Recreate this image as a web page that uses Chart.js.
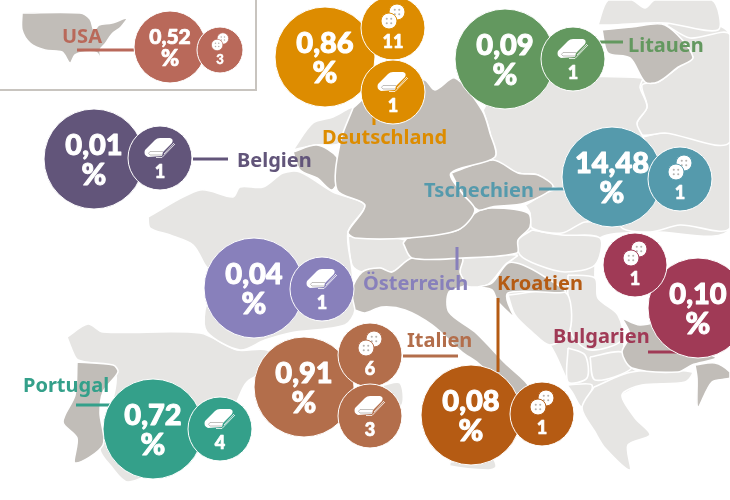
<!doctype html>
<html lang="de">
  <head>
    <meta charset="utf-8">
    <title>Europa</title>
    <script src="https://cdn.jsdelivr.net/npm/chart.js@4/dist/chart.umd.js"></script>
    <style>
      html, body { margin: 0; background: #fff; }
      canvas { display: block; }
    </style>
  </head>
  <body>
    <canvas id="karte" width="730" height="500"></canvas>
    <script>
    // Laender
    const laender = ['USA','Belgien','Deutschland','Litauen','Tschechien','Österreich','Italien','Kroatien','Bulgarien','Portugal'];
    const prozente = ['0,52','0,01','0,86','0,09','14,48','0,04','0,91','0,08','0,10','0,72'];
    const farben = ['#b9695a','#62557a','#dd8c00','#63985f','#559aac','#8880bb','#b36e4b','#b55b13','#a03a56','#34a08a'];

    // grosse Kreise
    const grossX = [170,94,325,505,612,254,304,471,698,153];
    const grossY = [47,159,57,59,177,288,387,415,308,429];
    const grossR = [36,50,50,50,50,50,50,50,50,50];

    // kleine Kreise: land = Index in laender, art = knopf / stoff
    const kleinLand = [0,1,2,2,3,4,5,6,6,7,8,9];
    const kleinArt = ['knopf','stoff','knopf','stoff','stoff','knopf','stoff','knopf','stoff','knopf','knopf','stoff'];
    const kleinZahl = ['3','1','11','1','1','1','1','6','3','1','1','4'];
    const kleinX = [220,160,393,393,573,680,322,370,370,542,635,220];
    const kleinY = [50,158,28,92,59,179,289,355,416,414,265,429];
    const kleinR = [23,32,32,32,32,32,32,32,32,32,32,32];

    // Beschriftung
    const labelX = [62,237,322,628,424,363,407,497,553,23];
    const labelY = [43,167,144,52,197,290,347,290,343,392];

    // Verbindungslinien, gleiche Reihenfolge wie laender
    const linieUSA = [[77,50],[135,50]];
    const linieBelgien = [[193,159],[228,159]];
    const linieDeutschland = [[374,112],[374,125]];
    const linieLitauen = [[600,42],[623,42]];
    const linieTschechien = [[539,189],[565,189]];
    const linieOesterreich = [[457,247],[457,270]];
    const linieItalien = [[403,356],[458,356]];
    const linieKroatien = [[498,298],[498,372]];
    const linieBulgarien = [[648,352],[680,352]];
    const liniePortugal = [[76,405],[110,405]];
    const rahmen = [[0,90],[256,90],[256,0]];

    // Karte, dunkel
    const usa = [[22,13],[80,13],[90,19],[94,30],[99,25],[112,23],[127,18],[121,27],[112,34],[105,44],[100,50],[103,65],[97,53],[85,52],[75,55],[70,63],[62,52],[45,50],[30,43],[22,30],[22,13]];
    const deutschland = [[353,108],[380,85],[405,78],[425,80],[435,90],[455,78],[482,110],[490,133],[495,157],[451,173],[462,193],[475,210],[458,230],[408,238],[355,238],[348,232],[365,205],[337,190],[340,143],[353,108]];
    const tschechien = [[451,173],[493,160],[518,173],[538,175],[553,187],[525,203],[492,207],[478,210],[462,193],[451,173]];
    const oesterreich = [[403,243],[408,238],[458,230],[475,213],[492,208],[528,213],[530,227],[518,240],[517,253],[462,258],[412,258],[403,243]];
    const italien = [[355,310],[352,290],[362,272],[380,268],[392,272],[412,258],[462,258],[460,272],[465,285],[449,292],[449,312],[475,332],[505,363],[530,388],[520,400],[478,363],[462,352],[432,325],[405,310],[382,307],[365,313],[355,310]];
    const kroatien = [[478,287],[492,283],[508,263],[523,265],[545,277],[565,292],[508,293],[515,318],[532,335],[522,325],[498,302],[492,290],[478,287]];
    const belgien = [[293,152],[317,145],[337,157],[340,173],[332,190],[317,178],[300,170],[293,152]];
    const litauen = [[602,30],[632,27],[665,25],[693,57],[677,68],[658,82],[645,82],[630,58],[608,53],[602,30]];
    const portugal = [[77,362],[113,365],[118,372],[103,392],[100,413],[103,445],[75,463],[77,438],[63,422],[75,395],[77,362]];
    const bulgarien = [[622,318],[640,325],[680,320],[700,350],[716,358],[692,365],[678,372],[632,368],[622,352],[630,335],[622,318]];
    const tuerkei = [[695,365],[715,363],[730,372],[730,378],[712,382],[698,407],[697,378],[695,365]];
    const dunkel = [usa,deutschland,tschechien,oesterreich,italien,kroatien,belgien,litauen,portugal,bulgarien,tuerkei];

    // Karte, hell
    const basis = [[483,110],[500,85],[548,78],[642,78],[665,25],[730,35],[730,228],[650,232],[600,238],[595,268],[598,298],[618,315],[632,368],[692,372],[685,382],[642,385],[622,395],[582,408],[568,382],[550,345],[508,295],[478,287],[460,260],[518,240],[530,210],[495,157],[483,110]];
    const frankreich = [[148,217],[200,190],[233,197],[240,187],[263,187],[283,173],[300,172],[333,192],[365,205],[348,232],[352,270],[355,310],[345,325],[290,333],[265,340],[240,350],[207,332],[205,310],[215,280],[205,265],[193,245],[170,235],[150,228],[148,217]];
    const spanien = [[67,337],[88,324],[103,332],[200,333],[237,350],[267,350],[275,365],[247,382],[235,405],[210,440],[165,465],[128,482],[110,465],[100,450],[105,430],[115,370],[78,360],[72,350],[67,337]];
    const niederlande = [[293,150],[313,123],[333,117],[353,108],[340,143],[315,145],[293,150]];
    const schweiz = [[348,236],[405,240],[412,258],[392,272],[380,268],[362,272],[352,265],[348,236]];
    const polen = [[483,110],[500,85],[548,78],[642,78],[640,87],[647,107],[637,123],[642,135],[648,150],[640,200],[590,195],[553,187],[538,175],[518,173],[493,160],[490,133],[483,110]];
    const lettland = [[598,25],[608,0],[632,0],[645,8],[655,0],[712,0],[718,30],[665,23],[610,25],[598,25]];
    const belarus = [[693,57],[677,68],[658,82],[642,85],[647,107],[637,123],[642,135],[665,133],[730,142],[730,35],[690,38],[665,25],[693,57]];
    const ukraine = [[642,137],[665,133],[730,142],[730,228],[680,225],[650,232],[620,225],[642,137]];
    const slowakei = [[525,205],[555,190],[590,200],[620,222],[585,222],[562,233],[532,228],[530,213],[525,205]];
    const ungarn = [[532,230],[562,235],[600,238],[595,265],[565,272],[538,265],[520,255],[518,240],[532,230]];
    const slowenien = [[462,258],[517,255],[505,265],[490,283],[478,287],[465,285],[460,272],[462,258]];
    const bosnien = [[508,295],[565,292],[570,330],[550,345],[532,332],[515,315],[508,295]];
    const serbien = [[568,275],[595,278],[598,298],[618,315],[622,340],[590,350],[572,335],[568,300],[568,275]];
    const albanien = [[568,348],[585,355],[587,378],[568,382],[568,348]];
    const mazedonien = [[590,357],[622,352],[632,368],[595,380],[590,357]];
    const griechenland = [[594,387],[632,372],[692,372],[685,382],[642,385],[622,395],[635,418],[650,435],[628,445],[630,470],[605,448],[595,432],[582,408],[594,387]];
    const epirus = [[567,385],[592,385],[582,407],[572,392],[567,385]];
    const sardinien = [[383,385],[400,383],[402,405],[385,410],[383,385]];
    const sizilien = [[450,462],[492,458],[496,467],[488,470],[450,466],[450,462]];
    const hell = [frankreich,spanien,niederlande,schweiz,polen,lettland,belarus,ukraine,slowakei,ungarn,slowenien,bosnien,serbien,albanien,mazedonien,griechenland,epirus,sardinien,sizilien];

    const verbindungen = [linieUSA,linieBelgien,linieDeutschland,linieLitauen,linieTschechien,linieOesterreich,linieItalien,linieKroatien,linieBulgarien,liniePortugal];

    const toXY = p => p.map(q => ({x:q[0], y:q[1]}));

    // kleinere order liegt oben
    const flaeche = (punkte, farbe, order) => ({
      type:'scatter', data:toXY(punkte), showLine:true, fill:'shape', tension:0.3,
      backgroundColor:farbe, borderColor:'#fff', borderWidth:1.6, pointRadius:0, order:order
    });
    const strich = (punkte, farbe, breite) => ({
      type:'scatter', data:toXY(punkte), showLine:true, fill:false,
      borderColor:farbe, borderWidth:breite, pointRadius:0, order:3
    });

    let datasets = [];
    datasets.push(flaeche(basis,'#e6e5e3',7));
    hell.forEach(p => datasets.push(flaeche(p,'#e6e5e3',6)));
    dunkel.forEach(p => datasets.push(flaeche(p,'#c1bdb8',5)));
    datasets.push(strich(rahmen,'#c8c4bf',2));
    verbindungen.forEach((p,i) => datasets.push(strich(p,farben[i],3)));

    // grosse Kreise als Bubbles
    datasets.push({
      type:'bubble', label:'gross', order:2,
      data:grossX.map((x,i) => ({x:x, y:grossY[i], r:grossR[i]})),
      backgroundColor:farben, borderColor:'#fff', borderWidth:1
    });
    datasets.push({
      type:'bubble', label:'klein', order:1,
      data:kleinX.map((x,i) => ({x:x, y:kleinY[i], r:kleinR[i]})),
      backgroundColor:kleinLand.map(l => farben[l]), borderColor:'#fff', borderWidth:1
    });

    function knopf(ctx, x, y, r, farbe) {
      ctx.fillStyle = '#fff';
      ctx.strokeStyle = farbe;
      ctx.lineWidth = r * 0.12;
      ctx.beginPath();
      ctx.arc(x, y, r, 0, Math.PI * 2);
      ctx.fill();
      ctx.stroke();
      ctx.fillStyle = '#b5b2af';
      [[-1,-1],[1,-1],[-1,1],[1,1]].forEach(d => {
        ctx.beginPath();
        ctx.arc(x + d[0] * r * 0.28, y + d[1] * r * 0.28, r * 0.13, 0, Math.PI * 2);
        ctx.fill();
      });
    }

    function stoff(ctx, x, y, s) {
      ctx.save();
      ctx.translate(x, y);
      ctx.scale(s, s);
      // Streifen rechts
      ctx.strokeStyle = '#fff';
      ctx.lineWidth = 0.8;
      ctx.beginPath();
      ctx.moveTo(-4,9.5); ctx.lineTo(2,9.5); ctx.lineTo(15,-4);
      ctx.moveTo(4,6); ctx.lineTo(14,-5);
      ctx.stroke();
      // Oberseite und Rolle
      ctx.fillStyle = '#fff';
      ctx.beginPath();
      ctx.moveTo(-15,2);
      ctx.lineTo(-5,-8);
      ctx.quadraticCurveTo(-3,-10,0,-10);
      ctx.lineTo(10,-10);
      ctx.quadraticCurveTo(14,-9,12,-5);
      ctx.lineTo(3,4);
      ctx.lineTo(2,8);
      ctx.lineTo(-12,9);
      ctx.quadraticCurveTo(-17,7,-15,2);
      ctx.fill();
      ctx.strokeStyle = '#a8a5a2';
      ctx.lineWidth = 0.7;
      ctx.beginPath();
      ctx.moveTo(3,3.5); ctx.lineTo(-10,3.5);
      ctx.quadraticCurveTo(-13,5.5,-10,7);
      ctx.lineTo(2,7);
      ctx.stroke();
      ctx.restore();
    }

    // Schrift etwas fetter als der Font hergibt
    function fettText(ctx, text, x, y, dicke) {
      ctx.lineWidth = dicke;
      ctx.lineJoin = 'round';
      ctx.strokeStyle = ctx.fillStyle;
      ctx.strokeText(text, x, y);
      ctx.fillText(text, x, y);
    }

    // Texte und Symbole ueber den Kreisen
    const beschriftung = {
      id:'beschriftung',
      afterDatasetsDraw(chart) {
        const ctx = chart.ctx;
        const xs = chart.scales.x, ys = chart.scales.y;
        const n = chart.data.datasets.length;
        ctx.save();
        ctx.textBaseline = 'alphabetic';

        chart.getDatasetMeta(n - 2).data.forEach((el,i) => {
          const k = grossR[i] / 50;
          ctx.fillStyle = '#fff';
          ctx.textAlign = 'center';
          ctx.font = '900 ' + Math.round(29 * k) + 'px Lato';
          fettText(ctx, prozente[i], el.x, el.y - 4 * k, 1 * k);
          ctx.font = '900 ' + Math.round(30 * k) + 'px Lato';
          fettText(ctx, '%', el.x, el.y + 26 * k, 1 * k);
        });

        chart.getDatasetMeta(n - 1).data.forEach((el,i) => {
          const k = kleinR[i] / 32;
          const farbe = farben[kleinLand[i]];
          if (kleinArt[i] == 'knopf') {
            knopf(ctx, el.x + 4 * k, el.y - 16 * k, 8 * k, farbe);
            knopf(ctx, el.x - 4 * k, el.y - 7 * k, 8 * k, farbe);
          } else {
            stoff(ctx, el.x, el.y - 10 * k, k);
          }
          ctx.fillStyle = '#fff';
          ctx.textAlign = 'center';
          ctx.font = '900 ' + Math.round(18 * k) + 'px Lato';
          fettText(ctx, kleinZahl[i], el.x, el.y + 20 * k, 0.7 * k);
        });

        ctx.textAlign = 'left';
        ctx.font = '700 20px "Noto Sans"';
        laender.forEach((name,i) => {
          ctx.fillStyle = farben[i];
          ctx.fillText(name, xs.getPixelForValue(labelX[i]), ys.getPixelForValue(labelY[i]));
        });
        ctx.restore();
      }
    };

    new Chart(document.getElementById('karte').getContext('2d'), {
      type:'scatter',
      data:{ datasets:datasets },
      plugins:[beschriftung],
      options:{
        responsive:false,
        animation:false,
        layout:{ padding:0, autoPadding:false },
        plugins:{ legend:{display:false}, tooltip:{enabled:false} },
        scales:{
          x:{ type:'linear', min:0, max:730, display:false },
          y:{ type:'linear', min:0, max:500, reverse:true, display:false }
        }
      }
    });
    </script>
  </body>
</html>
